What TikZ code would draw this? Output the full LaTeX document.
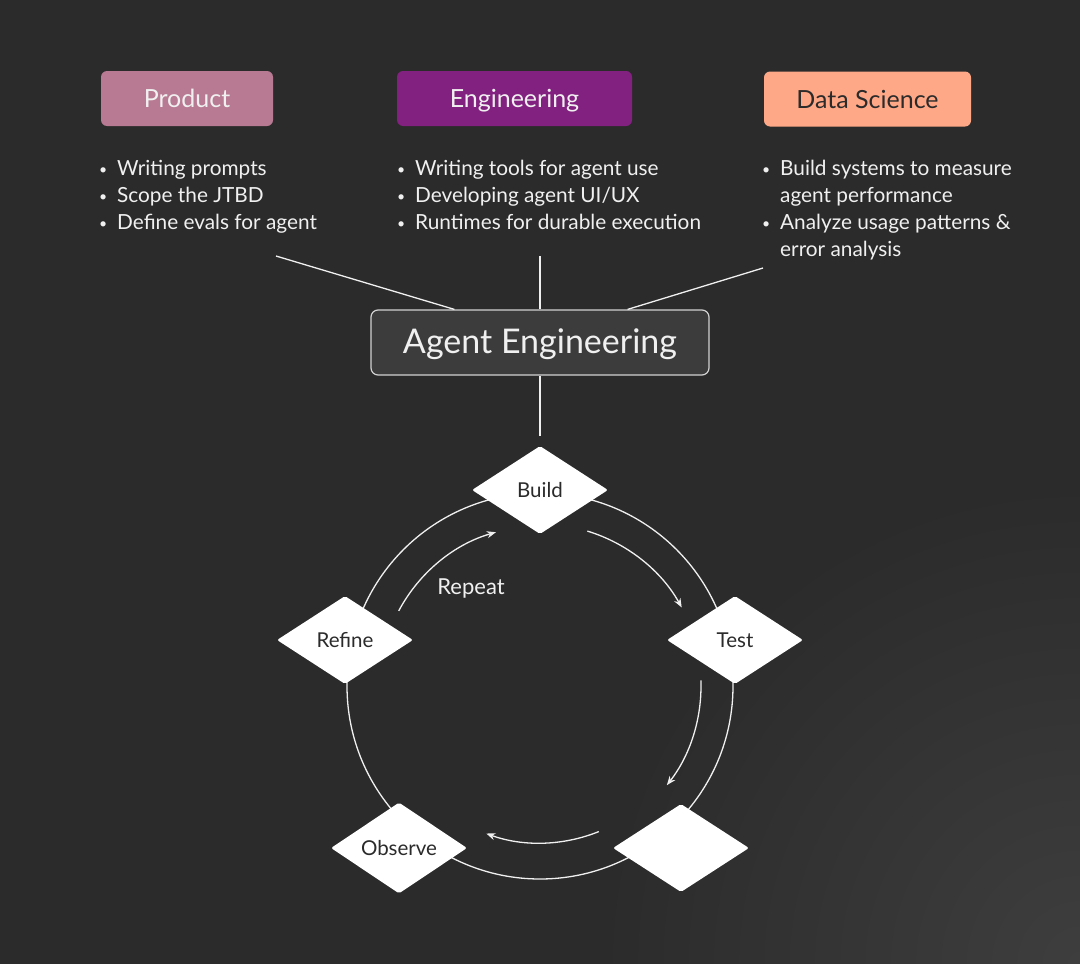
\documentclass[tikz,border=0pt]{standalone}
\usepackage{fontspec}
\setmainfont{Lato}
\usepackage{xcolor}
\usepackage{tikz}
\usetikzlibrary{calc, positioning, arrows.meta, shapes.geometric}
\definecolor{bgdark}{HTML}{2B2B2B}
\definecolor{bgglow}{HTML}{3E3E3E}
\definecolor{lighttext}{HTML}{F0F0F0}
\definecolor{prodfill}{HTML}{B87A92}
\definecolor{engfill}{HTML}{832180}
\definecolor{dsfill}{HTML}{FFA887}
\definecolor{hubfill}{HTML}{3C3C3C}
\definecolor{hubdraw}{HTML}{D2D2D2}
\newcommand{\duty}[1]{\makebox[18pt][l]{\raisebox{1pt}{\fontsize{14}{14}\selectfont\textbullet}}#1}
\newcommand{\dutycont}[1]{\makebox[18pt][l]{}#1}
\tikzset{
    x=1pt, y=1pt,
    role/.style={rectangle, rounded corners=6pt, minimum height=55pt, inner sep=0pt, text height=18pt, text depth=0pt, align=center, font=\fontsize{25}{28}\selectfont},
    duties/.style={anchor=base west, align=left, inner sep=0pt, text=lighttext, font=\fontsize{20.8}{27}\selectfont},
    hub/.style={rectangle, rounded corners=7pt, draw=hubdraw, line width=1.2pt, fill=hubfill, text=lighttext, minimum width=338pt, minimum height=65pt, text height=21pt, text depth=0pt, font=\fontsize{34}{38}\selectfont},
    stage/.style={diamond, fill=white, rounded corners=2pt, minimum width=136pt, minimum height=88pt, inner sep=0pt, text height=15pt, text depth=0pt, text=bgdark, font=\fontsize{20.5}{24}\selectfont},
    link/.style={draw=lighttext, line width=1.3pt},
    flow/.style={link, -{Stealth[length=9pt, width=7pt]}}
}

\begin{document}
\begin{tikzpicture}
    % background
    \fill[bgdark] (0,0) rectangle (1080,-964);
    \begin{scope}
        \clip (0,0) rectangle (1080,-964);
        \shade[inner color=bgglow, outer color=bgdark] (1080,-964) circle[radius=480];
    \end{scope}
    \useasboundingbox (0,0) rectangle (1080,-964);

    % roles
    \node[role, fill=prodfill, text=lighttext, minimum width=172pt] (product) at (187,-98.5) {Product};
    \node[role, fill=engfill, text=lighttext, minimum width=235pt] (engineering) at (514.5,-98.5) {Engineering};
    \node[role, fill=dsfill, text=bgdark, minimum width=207pt] (datasci) at (867.5,-99) {Data Science};

    % lists (placed by the baseline of their last line)
    \node[duties] (prodList) at (99,-229) {\duty{Writing prompts}\\ \duty{Scope the JTBD}\\ \duty{Define evals for agent}};
    \node[duties] (engList) at (397,-229) {\duty{Writing tools for agent use}\\ \duty{Developing agent UI/UX}\\ \duty{Runtimes for durable execution}};
    \node[duties] (dsList) at (762,-256) {\duty{Build systems to measure}\\ \dutycont{agent performance}\\ \duty{Analyze usage patterns \&}\\ \dutycont{error analysis}};

    % hub
    \node[hub] (agent) at (540,-342.5) {Agent Engineering};

    \coordinate (prodEnd) at (276,-256);
    \coordinate (engEnd) at (540,-256);
    \coordinate (dsEnd) at (763,-268);
    \draw[link] (prodEnd) -- ([xshift=84pt]agent.north west);
    \draw[link] (engEnd) -- (agent.north);
    \draw[link] (dsEnd) -- ([xshift=-82pt]agent.north east);

    % cycle
    \coordinate (cyc) at (540,-686);
    \draw[link] (cyc) circle[radius=193];

    \node[stage] (build) at (540,-490) {Build};
    \node[stage] (test) at (735,-640) {Test};
    \node[stage] (refine) at (345,-640) {Refine};
    \node[stage] (observe) at (399,-848) {Observe};
    \node[stage] (release) at (681,-848) {};

    \draw[link] (agent.south) -- ([yshift=10pt]build.north);

    \draw[flow] ($(cyc)+(73:162)$) arc[start angle=73, end angle=29, radius=162];
    \draw[flow] ($(cyc)+(2:161)$) arc[start angle=2, end angle=-38, radius=161];
    \draw[flow] ($(cyc)+(-68:157)$) arc[start angle=-68, end angle=-110, radius=157];
    \draw[flow] ($(cyc)+(152:160)$) arc[start angle=152, end angle=106, radius=160];

    \node[text=lighttext, font=\fontsize{22}{26}\selectfont] (repeat) at (471,-588) {Repeat};
\end{tikzpicture}
\end{document}
